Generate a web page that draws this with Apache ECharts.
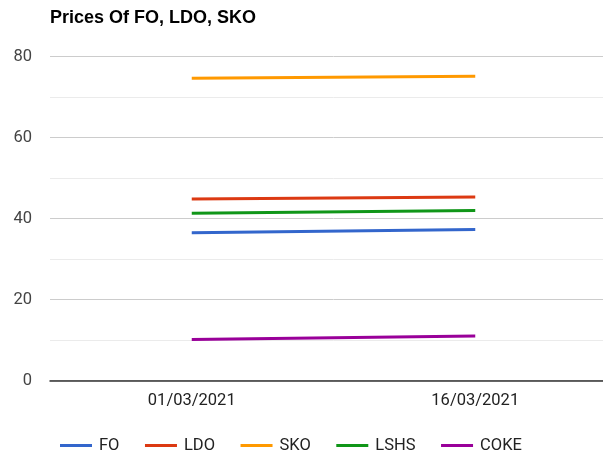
<!DOCTYPE html>
<html>
<head>
<meta charset="utf-8">
<script src="https://cdn.jsdelivr.net/npm/echarts@6/dist/echarts.min.js"></script>
<style>
html,body{margin:0;padding:0;background:#fff;overflow:hidden;}
#main{width:617px;height:460px;}
</style>
</head>
<body>
<div id="main"></div>
<script>
var categories = ['01/03/2021', '16/03/2021'];
var seriesNames = ['FO', 'LDO', 'SKO', 'LSHS', 'COKE'];
var FO = [36.5, 37.3];
var LDO = [44.8, 45.3];
var SKO = [74.6, 75.1];
var LSHS = [41.3, 42.0];
var COKE = [10.1, 11.0];
var yTicks = [0, 20, 40, 60, 80];
var colors = ['#3366cc', '#dc3912', '#ff9900', '#109618', '#990099'];

var values = [FO, LDO, SKO, LSHS, COKE];
var chart = echarts.init(document.getElementById('main'));
chart.setOption({
  animation: false,
  color: colors,
  title: {
    text: 'Prices Of FO, LDO, SKO',
    left: 50, top: 9, padding: 0,
    textStyle: {fontFamily: 'Liberation Sans, Arial', fontWeight: 'bold', fontSize: 18, color: '#000'}
  },
  legend: {
    left: 60, top: 437, padding: 0,
    itemWidth: 32, itemHeight: 3, itemGap: 25.5,
    icon: 'rect',
    textStyle: {fontFamily: 'Roboto, Arial', fontSize: 16.5, color: '#222', padding: [0, 0, 0, 2]},
    data: seriesNames
  },
  grid: {left: 50, right: 0, top: 56.5, bottom: 79.5, containLabel: false},
  xAxis: {
    type: 'category',
    data: categories,
    boundaryGap: true,
    axisLine: {lineStyle: {color: '#333', width: 1.5}},
    axisTick: {show: false},
    axisLabel: {fontFamily: 'Roboto, Arial', fontSize: 16.5, color: '#222', margin: 12}
  },
  yAxis: {
    type: 'value',
    min: yTicks[0], max: yTicks[yTicks.length - 1], interval: 20,
    axisLine: {show: false},
    axisTick: {show: false},
    axisLabel: {fontFamily: 'Roboto, Arial', fontSize: 16.5, color: '#444', margin: 18},
    splitLine: {lineStyle: {color: '#cccccc', width: 1}},
    minorTick: {show: false, splitNumber: 2},
    minorSplitLine: {show: true, lineStyle: {color: '#ebebeb', width: 1}}
  },
  series: seriesNames.map(function (n, i) {
    return {
      name: n, type: 'line', data: values[i],
      symbol: 'none', lineStyle: {width: 3, color: colors[i]},
      itemStyle: {color: colors[i]}
    };
  })
});
</script>
</body>
</html>
